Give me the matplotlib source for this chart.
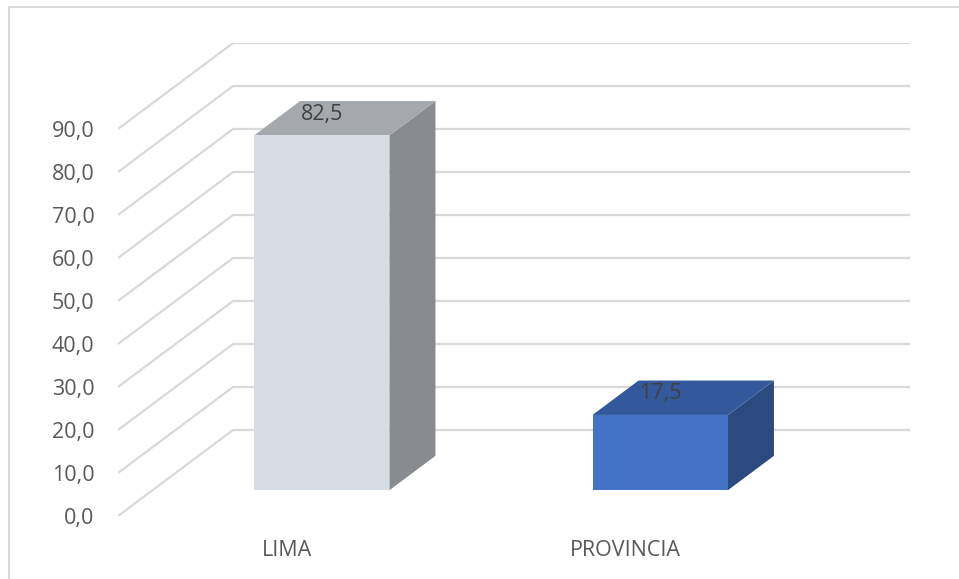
import numpy as np
import matplotlib.pyplot as plt
from matplotlib.patches import Polygon, Rectangle

categorias = ['LIMA', 'PROVINCIA']
valores = [82.5, 17.5]
ticks = [0, 10, 20, 30, 40, 50, 60, 70, 80, 90]
etiquetas = ['0,0', '10,0', '20,0', '30,0', '40,0', '50,0', '60,0', '70,0', '80,0', '90,0']
etiq_valor = ['82,5', '17,5']

col_frente = ['#D6DCE4', '#4472C4']
col_tapa = ['#A5A8AD', '#33599C']
col_lado = ['#888B8F', '#2A4A80']

# proyeccion oblicua: profundidad en unidades del eje
DX = 0.34   # desplazamiento en x (categorias)
DY = 20.0   # desplazamiento en y (valores)
ANCHO = 0.40
Z0, Z1 = 0.30, 0.70   # profundidad de la barra
FS = 15.5

W, H = 959, 579
fig = plt.figure(figsize=(W / 100, H / 100), dpi=100)
fig.patches.append(Rectangle((9 / W, -0.1), 1.2, 1.1 - 7 / H, transform=fig.transFigure,
                             fill=False, edgecolor='#D9D9D9', linewidth=1.5))

ax = fig.add_axes([118 / W, 1 - 516 / H, (910 - 118) / W, (516 - 43) / H])
ax.set_xlim(0, 2 + DX)
ax.set_ylim(0, 90 + DY)
ax.axis('off')

gris = '#D9D9D9'
for v in ticks:
    ax.plot([0, DX, 2 + DX], [v, v + DY, v + DY], color=gris, lw=1.6,
            solid_capstyle='butt', zorder=1)

def pt(x, y, z):
    return (x + z * DX, y + z * DY)

for i, (val, c) in enumerate(zip(valores, categorias)):
    xc = i + 0.5
    x0, x1 = xc - ANCHO / 2, xc + ANCHO / 2
    frente = [pt(x0, 0, Z0), pt(x1, 0, Z0), pt(x1, val, Z0), pt(x0, val, Z0)]
    tapa = [pt(x0, val, Z0), pt(x1, val, Z0), pt(x1, val, Z1), pt(x0, val, Z1)]
    lado = [pt(x1, 0, Z0), pt(x1, 0, Z1), pt(x1, val, Z1), pt(x1, val, Z0)]
    ax.add_patch(Polygon(lado, closed=True, facecolor=col_lado[i], edgecolor='none', zorder=3))
    ax.add_patch(Polygon(tapa, closed=True, facecolor=col_tapa[i], edgecolor='none', zorder=3))
    ax.add_patch(Polygon(frente, closed=True, facecolor=col_frente[i], edgecolor='none', zorder=4))
    lx, ly = pt(xc, val, Z0)
    ax.text(lx, ly + 0.29 * DY - 0.9, etiq_valor[i], ha='center', va='center',
            fontsize=FS, color='#404040', family='Open Sans', zorder=5)
    ax.text(xc, -8.0, c, ha='center', va='center', fontsize=FS,
            color='#595959', family='Open Sans')

for v, t in zip(ticks, etiquetas):
    ax.text(-0.07, v - 0.5, t, ha='right', va='center', fontsize=FS,
            color='#595959', family='Open Sans')

fig.savefig('out.png', dpi=100)
